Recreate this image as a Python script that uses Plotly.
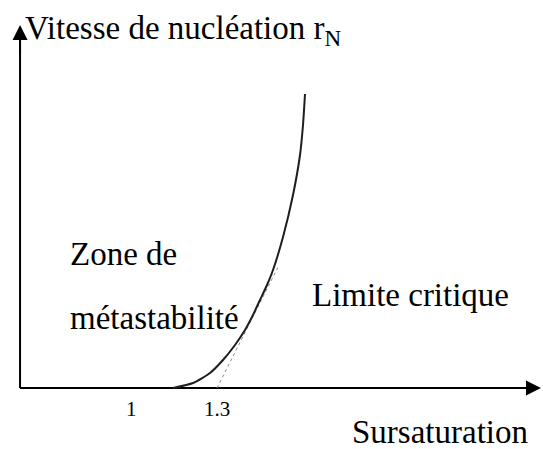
import plotly.graph_objects as go

# Nucleation rate versus supersaturation (arbitrary units)
sursaturation = [1.1465, 1.2163, 1.2755, 1.3209, 1.3627, 1.3976, 1.4220, 1.4499,
                 1.4744, 1.4953, 1.5302, 1.5650, 1.5895, 1.5999, 1.6069]
vitesse = [0.0, 0.05, 0.15, 0.28, 0.43, 0.58, 0.71, 0.88,
           1.03, 1.18, 1.51, 1.93, 2.33, 2.63, 2.94]

# Tangent marking the critical limit
tangente_x = [1.30, 1.513]
tangente_y = [0.0, 1.21]

tick_values = [1.0, 1.3]
tick_labels = ["1", "1.3"]

W, H = 543, 449
X_MIN, X_MAX = 0.5431, 2.437
Y_MIN, Y_MAX = -0.61, 3.88
AXIS_X = 0.613
AXIS_TOP = 3.63
AXIS_RIGHT = 2.43

SERIF = "Liberation Serif, Times New Roman, serif"

fig = go.Figure()

# Axes drawn as plain lines
fig.add_trace(go.Scatter(x=[AXIS_X, AXIS_X], y=[0, AXIS_TOP - 0.05], mode="lines",
                         line=dict(color="black", width=2), hoverinfo="skip"))
fig.add_trace(go.Scatter(x=[AXIS_X, AXIS_RIGHT - 0.02], y=[0, 0], mode="lines",
                         line=dict(color="black", width=2), hoverinfo="skip"))

fig.add_trace(go.Scatter(x=tangente_x, y=tangente_y, mode="lines",
                         line=dict(color="#8a8a8a", width=1, dash="dot"), hoverinfo="skip"))
fig.add_trace(go.Scatter(x=sursaturation, y=vitesse, mode="lines",
                         line=dict(color="#1e1e1e", width=2, shape="spline", smoothing=0.6),
                         hoverinfo="skip"))

annotations = [
    # arrow heads
    dict(x=AXIS_X, y=AXIS_TOP, ax=AXIS_X, ay=AXIS_TOP - 0.3, xref="x", yref="y",
         axref="x", ayref="y", showarrow=True, arrowhead=2, arrowsize=1.5,
         arrowwidth=2, arrowcolor="black", text=""),
    dict(x=AXIS_RIGHT, y=0, ax=AXIS_RIGHT - 0.1, ay=0, xref="x", yref="y",
         axref="x", ayref="y", showarrow=True, arrowhead=2, arrowsize=1.5,
         arrowwidth=2, arrowcolor="black", text=""),
]

texts = [
    ("Vitesse de nucléation r<sub>N</sub>", 23, 30),
    ("Zone de", 68, 254),
    ("métastabilité", 68, 318),
    ("Limite critique", 310, 295),
    ("Sursaturation", 350, 432),
]
for txt, px, py in texts:
    annotations.append(dict(
        x=1 + (px - 131) / 286.7, y=(388 - py) / 100, xref="x", yref="y",
        text=txt, showarrow=False, xanchor="left", yanchor="middle",
        font=dict(family=SERIF, size=33, color="black")))

for v, lab in zip(tick_values, tick_labels):
    annotations.append(dict(
        x=v, y=-0.21, xref="x", yref="y", text=lab, showarrow=False,
        xanchor="center", yanchor="middle",
        font=dict(family=SERIF, size=21, color="black")))

fig.update_layout(
    width=W, height=H,
    margin=dict(l=0, r=0, t=0, b=0),
    paper_bgcolor="white", plot_bgcolor="white",
    showlegend=False,
    xaxis=dict(range=[X_MIN, X_MAX], visible=False, fixedrange=True),
    yaxis=dict(range=[Y_MIN, Y_MAX], visible=False, fixedrange=True),
    annotations=annotations,
)

fig.write_html("out.html")
